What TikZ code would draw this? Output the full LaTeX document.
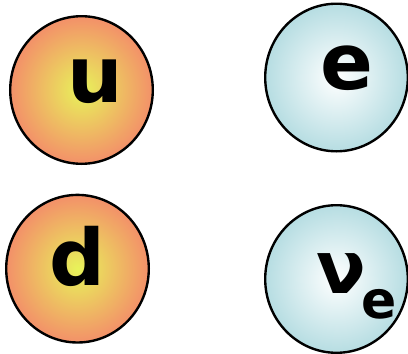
\documentclass[tikz,border=0pt]{standalone}
\usepackage{fontspec}
\setmainfont{DejaVu Sans}
\usetikzlibrary{shapes.geometric}
\definecolor{qin}{RGB}{232,243,90}
\definecolor{qout}{RGB}{243,144,105}
\definecolor{lin}{RGB}{255,255,255}
\definecolor{lout}{RGB}{182,221,226}
\begin{document}
\begin{tikzpicture}[x=1pt,y=-1pt]
\tikzset{
  ball/.style={ellipse, draw=black, line width=2.4pt, minimum width=142.6pt, minimum height=147.6pt, inner sep=0pt},
  quark/.style={ball, inner color=qin, outer color=qout},
  lepton/.style={ball, inner color=lin, outer color=lout},
  sym/.style={inner sep=0pt, font=\fontsize{78}{80}\selectfont\bfseries}
}
\useasboundingbox (0,0) rectangle (408,354);
\node[quark] (uc) at (81.5,90) {};
\node[lepton] (ec) at (336.5,77.5) {};
\node[quark] (dc) at (77.5,268.7) {};
\node[lepton] (nc) at (336.5,279) {};
\node[sym] (ut) at (95,82) {u};
\node[sym] (et) at (347,68.5) {e};
\node[sym] (dt) at (77,256) {d};
\node[sym, font=\fontsize{73}{75}\selectfont\bfseries] (nt) at (341,274) {ν};
\node[sym, font=\fontsize{52}{54}\selectfont\bfseries] (nst) at (379,304) {e};
\end{tikzpicture}
\end{document}
